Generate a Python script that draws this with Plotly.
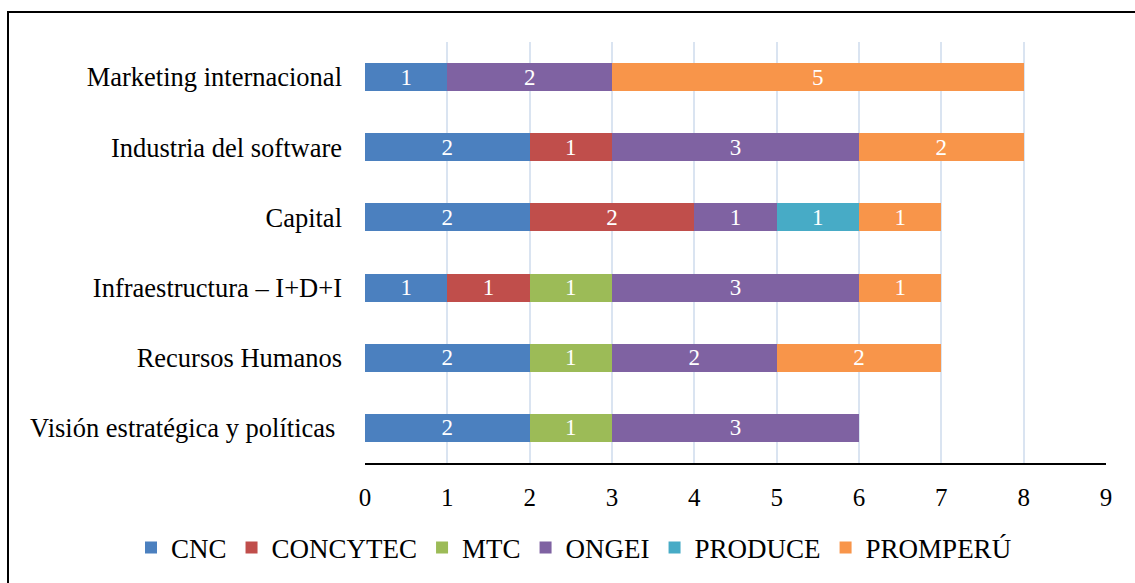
import plotly.graph_objects as go

categories = ["Visión estratégica y políticas\u00a0", "Recursos Humanos", "Infraestructura – I+D+I",
              "Capital", "Industria del software", "Marketing internacional"]
series_names = ["CNC", "CONCYTEC", "MTC", "ONGEI", "PRODUCE", "PROMPERÚ"]
cnc = [2, 2, 1, 2, 2, 1]
concytec = [None, None, 1, 2, 1, None]
mtc = [1, 1, 1, None, None, None]
ongei = [3, 2, 3, 1, 3, 2]
produce = [None, None, None, 1, None, None]
promperu = [None, 2, 1, 1, 2, 5]
x_ticks = [0, 1, 2, 3, 4, 5, 6, 7, 8, 9]

series_values = [cnc, concytec, mtc, ongei, produce, promperu]
colors = ["#4B80BF", "#C04E4B", "#9CBB57", "#7F62A2", "#47ABC6", "#F8954A"]

W, H = 1135, 583
L, R, T, B = 365, 29, 42, 120
pw, ph = W - L - R, H - T - B
SERIF = "Liberation Serif, Times New Roman, serif"

fig = go.Figure()
for name, vals, col in zip(series_names, series_values, colors):
    fig.add_trace(go.Bar(
        y=categories, x=vals, name=name, orientation="h",
        marker=dict(color=col, line=dict(width=0)),
        text=[str(v) if v is not None else "" for v in vals],
        textposition="inside", insidetextanchor="middle", textangle=0,
        constraintext="none", cliponaxis=False,
        textfont=dict(color="white", size=23, family=SERIF),
        hoverinfo="x+y+name",
    ))

def px_x(p):
    return (p - L) / pw

def px_y(p):
    return (H - B - p) / ph

fig.add_shape(type="rect", xref="paper", yref="paper",
              x0=px_x(8), x1=px_x(1200), y0=px_y(12), y1=px_y(650),
              line=dict(color="black", width=2), fillcolor="rgba(0,0,0,0)", layer="above")

fig.update_layout(
    width=W, height=H,
    margin=dict(l=L, r=R, t=T, b=B, autoexpand=False),
    barmode="stack", bargap=0.6,
    plot_bgcolor="white", paper_bgcolor="white",
    font=dict(family=SERIF, size=26, color="black"),
    uniformtext=dict(mode=False),
    showlegend=True,
    legend=dict(orientation="h", x=px_x(131), xanchor="left", y=px_y(548), yanchor="middle",
                font=dict(size=27, family=SERIF), traceorder="normal",
                itemwidth=30, bgcolor="rgba(0,0,0,0)"),
    xaxis=dict(range=[0, 9], tickvals=x_ticks, showgrid=True, gridcolor="#DAE4F1", gridwidth=2,
               zeroline=False, showline=True, linecolor="black", linewidth=2, ticks="",
               ticklabelstandoff=11, tickfont=dict(size=25, family=SERIF), fixedrange=True),
    yaxis=dict(categoryorder="array", categoryarray=categories, showgrid=False, zeroline=False,
               showline=False, ticks="", ticklabelstandoff=22, tickfont=dict(size=26.5, family=SERIF),
               fixedrange=True),
)

fig.write_html("out.html")
